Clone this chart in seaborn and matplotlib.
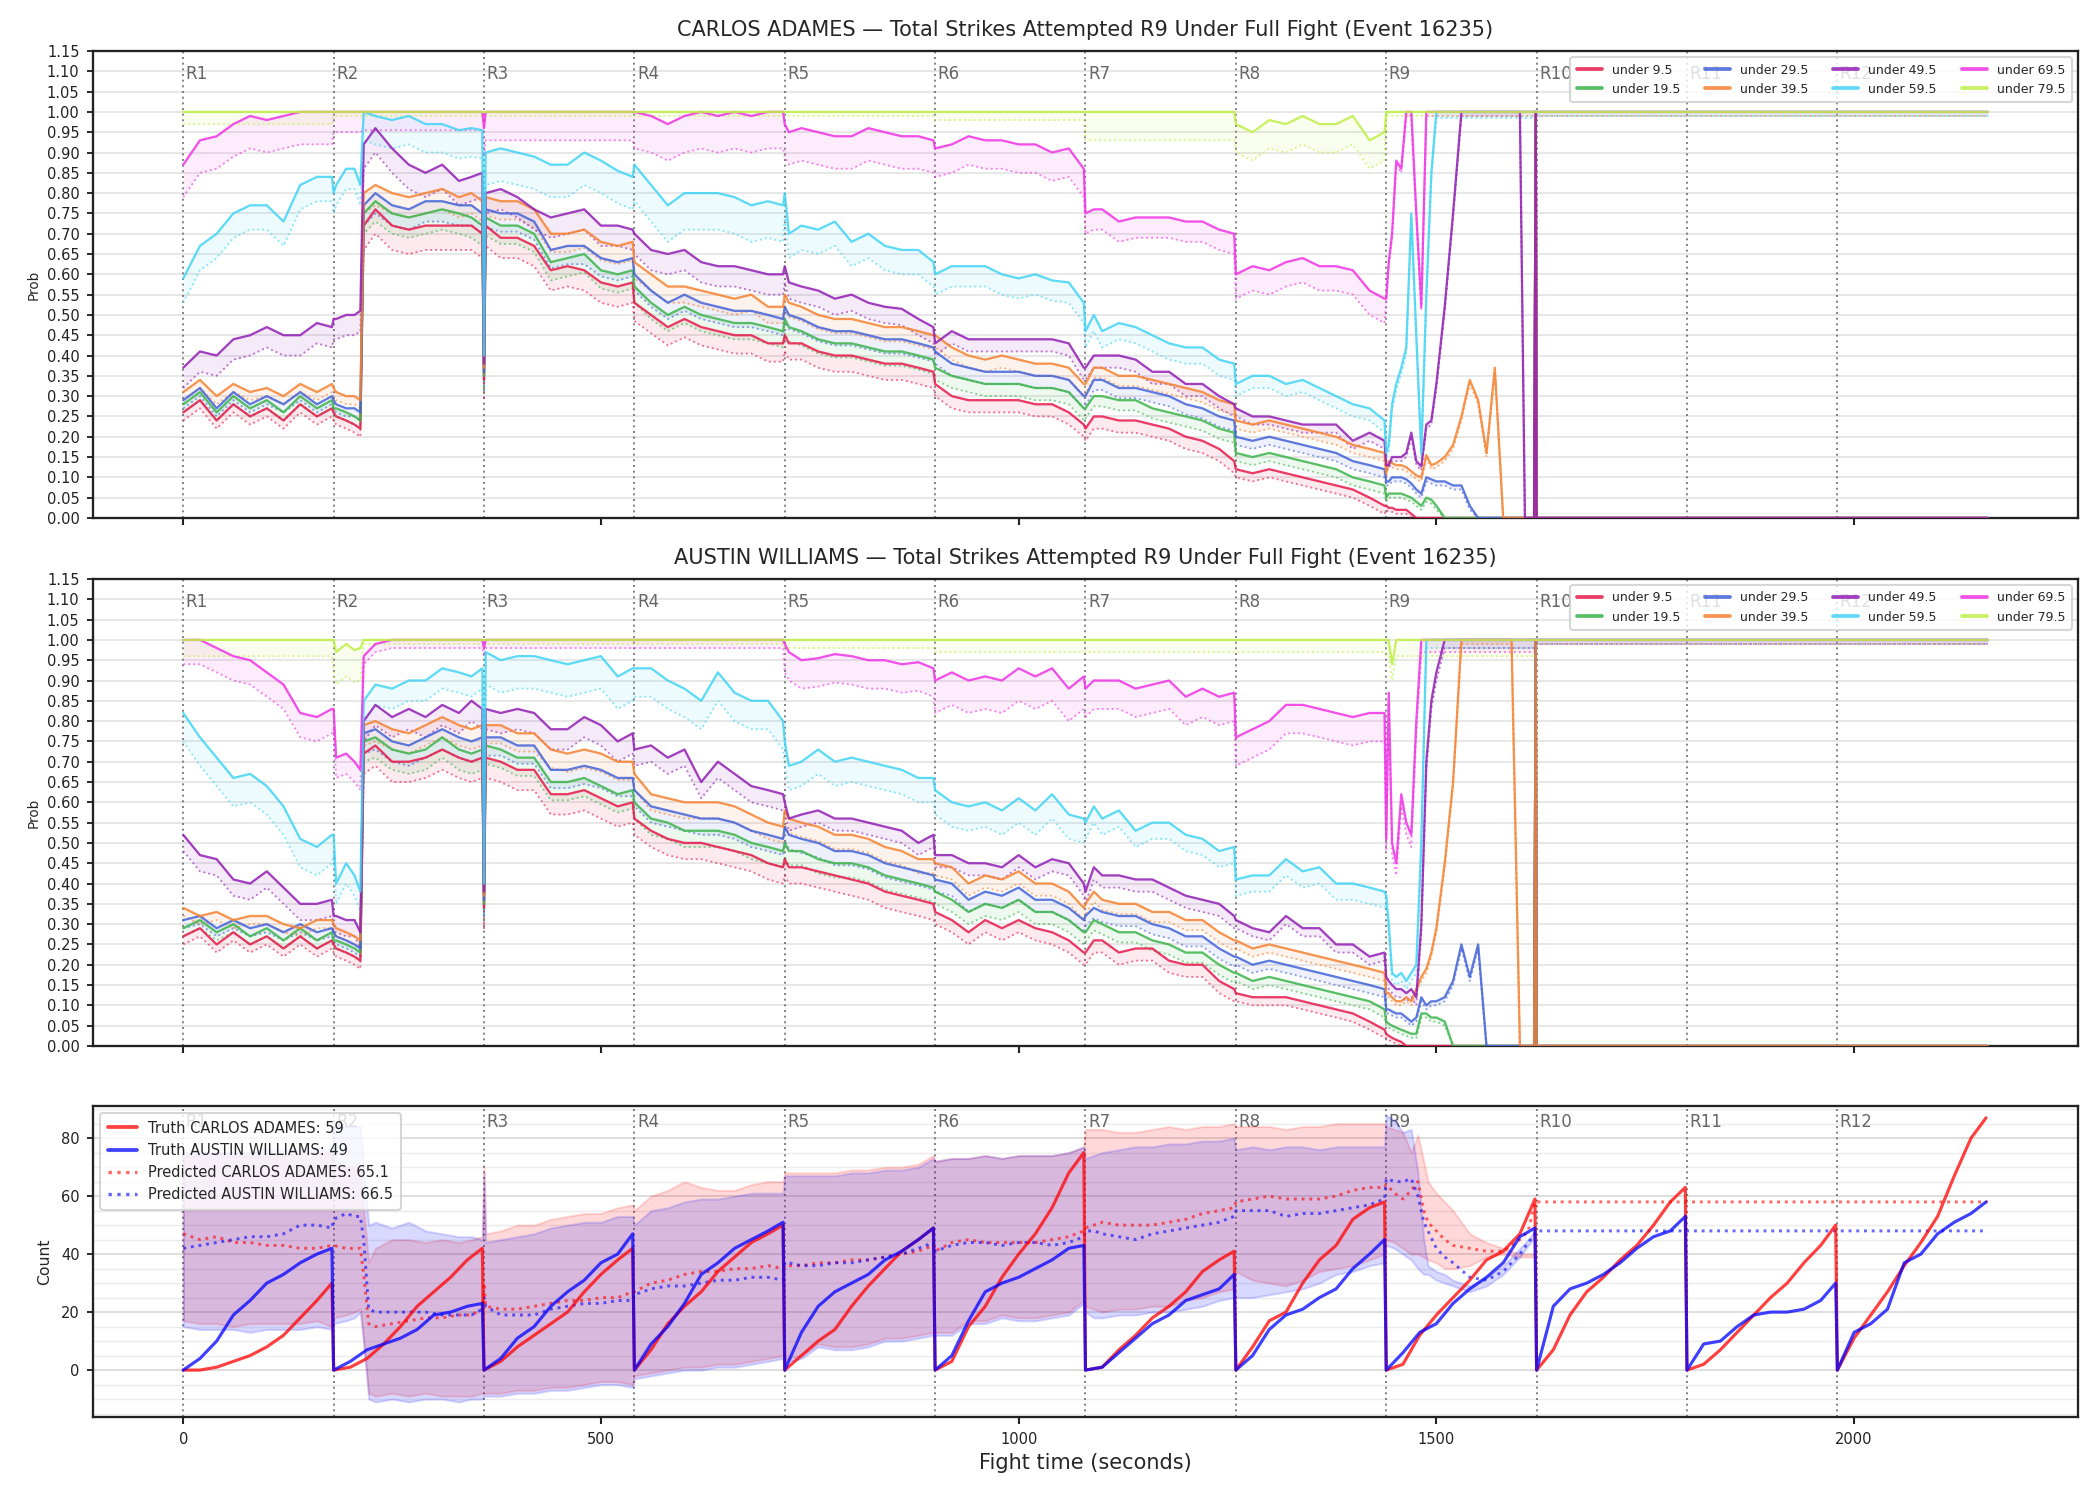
import numpy as np
import pandas as pd
import matplotlib
matplotlib.use("Agg")
import matplotlib.pyplot as plt
from matplotlib.lines import Line2D
from matplotlib.ticker import MultipleLocator
import seaborn as sns

# ---------------------------------------------------------------- data
ROUND_STARTS = [0, 180, 360, 540, 720, 900, 1080, 1260, 1440, 1620, 1800, 1980]
ROUND_NAMES = ["R1", "R2", "R3", "R4", "R5", "R6", "R7", "R8", "R9", "R10", "R11", "R12"]
THRESHOLDS = ["under 9.5", "under 19.5", "under 29.5", "under 39.5",
              "under 49.5", "under 59.5", "under 69.5", "under 79.5"]
LINE_COLORS = ["#e6194B", "#3cb44b", "#4363d8", "#f58231",
               "#911eb4", "#42d4f4", "#f032e6", "#bfef45"]

# sample times (s) of the probability curves
T_PROB = [
    0, 20, 40, 60, 80, 100, 120, 140, 160, 178,
    180, 183, 195, 205, 212, 216, 230, 250, 270, 290, 310, 330, 345, 358,
    360, 362, 380, 400, 420, 440, 460, 480, 500, 520, 538,
    540, 560, 580, 600, 620, 640, 660, 680, 700, 718,
    720, 725, 740, 760, 780, 800, 820, 840, 860, 880, 898,
    900, 920, 940, 960, 980, 1000, 1020, 1040, 1060, 1078,
    1080, 1090, 1100, 1120, 1140, 1160, 1180, 1200, 1220, 1240, 1258,
    1260, 1280, 1300, 1320, 1340, 1360, 1380, 1400, 1420, 1438,
    1440, 1443, 1447, 1452, 1458, 1464, 1470, 1476, 1482, 1488, 1494, 1500, 1510, 1520,
    1530, 1540, 1550, 1560, 1570, 1580, 1590, 1600, 1606, 1612, 1617, 1619, 1620, 2160,
]
# segments in which the lower (dotted) band gap is constant
GAP_SEGMENTS = [0, 180, 214, 360, 540, 720, 900, 1080, 1260, 1440, 1620]

# ---- CARLOS ADAMES (solid lines)
adames_u9 = [
    .26, .29, .24, .28, .25, .27, .24, .28, .25, .27,
    .26, .25, .24, .23, .22, .72, .76, .72, .71, .72, .72, .72, .72, .70,
    .34, .72, .69, .69, .67, .61, .62, .61, .58, .57, .58,
    .53, .50, .47, .49, .47, .46, .45, .45, .43, .43,
    .45, .43, .43, .41, .40, .40, .39, .38, .38, .37, .36,
    .33, .30, .29, .29, .29, .29, .28, .28, .26, .23,
    .22, .25, .25, .24, .24, .23, .22, .20, .19, .17, .14,
    .12, .11, .12, .11, .10, .09, .08, .07, .05, .03,
    .03, .025, .025, .02, .02, .02, .01, 0, 0, 0, 0, 0, 0, 0,
    0, 0, 0, 0, 0, 0, 0, 0, 0, 0, 0, 1, 0, 0,
]
adames_u19 = [
    .28, .31, .26, .30, .27, .29, .26, .30, .27, .29,
    .27, .27, .26, .25, .24, .75, .78, .75, .74, .75, .76, .75, .74, .72,
    .35, .74, .72, .72, .70, .63, .64, .65, .61, .60, .61,
    .57, .53, .50, .52, .50, .49, .48, .48, .47, .46,
    .49, .47, .46, .44, .43, .43, .42, .41, .41, .40, .39,
    .37, .35, .34, .33, .33, .33, .32, .32, .31, .27,
    .27, .30, .30, .29, .29, .27, .26, .25, .24, .22, .21,
    .16, .15, .16, .15, .14, .13, .12, .10, .09, .08,
    .05, .06, .06, .06, .06, .055, .05, .04, .03, .05, .045, .03, 0, 0,
    0, 0, 0, 0, 0, 0, 0, 0, 0, 0, 0, 1, 0, 0,
]
adames_u29 = [
    .29, .32, .27, .31, .28, .30, .28, .31, .28, .30,
    .29, .28, .27, .27, .26, .77, .80, .77, .76, .78, .78, .77, .77, .75,
    .36, .76, .75, .75, .73, .66, .67, .67, .64, .63, .64,
    .60, .56, .53, .55, .53, .52, .51, .51, .50, .49,
    .52, .50, .49, .47, .46, .46, .45, .44, .44, .43, .42,
    .41, .38, .37, .36, .36, .36, .35, .35, .34, .30,
    .30, .34, .34, .32, .32, .31, .30, .28, .27, .25, .24,
    .20, .19, .20, .19, .18, .17, .16, .14, .13, .12,
    .09, .09, .10, .10, .10, .095, .085, .07, .06, .10, .095, .09, .09, .08,
    .08, .03, 0, 0, 0, 0, 0, 0, 0, 0, 0, 1, 0, 0,
]
adames_u39 = [
    .31, .34, .30, .33, .31, .32, .30, .33, .31, .33,
    .32, .31, .30, .30, .29, .80, .82, .80, .79, .80, .81, .79, .80, .78,
    .37, .79, .78, .78, .76, .70, .70, .71, .68, .67, .68,
    .63, .60, .57, .57, .56, .55, .54, .55, .52, .52,
    .55, .53, .52, .50, .49, .49, .48, .47, .47, .46, .45,
    .45, .42, .40, .39, .40, .39, .38, .38, .37, .33,
    .33, .37, .37, .35, .35, .34, .33, .32, .31, .29, .28,
    .24, .23, .24, .23, .22, .21, .20, .18, .17, .16,
    .11, .14, .135, .13, .13, .125, .115, .105, .10, .155, .13, .135, .15, .18,
    .25, .34, .29, .16, .37, 0, 0, 0, 0, 0, 0, 1, 0, 0,
]
adames_u49 = [
    .37, .41, .40, .44, .45, .47, .45, .45, .48, .47,
    .49, .49, .50, .50, .51, .92, .96, .91, .87, .85, .87, .83, .84, .85,
    .38, .80, .81, .79, .76, .74, .75, .76, .72, .72, .71,
    .70, .66, .65, .66, .63, .62, .62, .61, .60, .60,
    .62, .58, .57, .56, .54, .55, .53, .52, .515, .49, .47,
    .43, .46, .44, .44, .44, .44, .44, .44, .43, .37,
    .37, .40, .40, .40, .39, .36, .36, .33, .33, .30, .28,
    .27, .25, .25, .24, .23, .23, .23, .19, .21, .19,
    .13, .13, .15, .15, .15, .16, .21, .14, .127, .23, .24, .33, .52, .75,
    1, 1, 1, 1, 1, 1, 1, 1, 0, 0, 0, 1, 0, 0,
]
adames_u59 = [
    .59, .67, .70, .75, .77, .77, .73, .82, .84, .84,
    .80, .82, .86, .86, .82, 1.0, .99, .98, .99, .97, .97, .955, .96, .955,
    .40, .90, .91, .90, .89, .87, .87, .90, .88, .855, .84,
    .87, .82, .77, .80, .80, .80, .79, .77, .78, .77,
    .80, .70, .72, .71, .73, .68, .70, .67, .66, .66, .63,
    .60, .62, .62, .62, .60, .59, .60, .585, .58, .53,
    .46, .50, .46, .48, .47, .45, .43, .42, .42, .39, .38,
    .33, .35, .35, .33, .34, .32, .30, .28, .27, .24,
    .16, .18, .28, .33, .37, .42, .75, .45, .16, .55, .85, 1, 1, 1,
    1, 1, 1, 1, 1, 1, 1, 1, 1, 1, 1, 1, 1, 1,
]
adames_u69 = [
    .87, .93, .94, .97, .99, .98, .99, 1, 1, 1,
    1, 1, 1, 1, 1, 1, 1, 1, 1, 1, 1, 1, 1, 1,
    .96, 1, 1, 1, 1, 1, 1, 1, 1, 1, 1,
    1, .99, .97, .99, 1, .99, 1, .99, 1, 1,
    .97, .95, .96, .95, .94, .94, .96, .95, .94, .94, .93,
    .91, .92, .94, .93, .93, .92, .92, .90, .91, .86,
    .75, .76, .76, .73, .74, .74, .74, .73, .73, .71, .70,
    .60, .62, .61, .63, .64, .62, .62, .61, .56, .54,
    .54, .63, .70, .88, .86, 1, 1, .75, .52, 1, 1, 1, 1, 1,
    1, 1, 1, 1, 1, 1, 1, 1, 1, 1, 1, 1, 1, 1,
]
adames_u79 = [
    1, 1, 1, 1, 1, 1, 1, 1, 1, 1,
    1, 1, 1, 1, 1, 1, 1, 1, 1, 1, 1, 1, 1, 1,
    1, 1, 1, 1, 1, 1, 1, 1, 1, 1, 1,
    1, 1, 1, 1, 1, 1, 1, 1, 1, 1,
    1, 1, 1, 1, 1, 1, 1, 1, 1, 1, 1,
    1, 1, 1, 1, 1, 1, 1, 1, 1, 1,
    1, 1, 1, 1, 1, 1, 1, 1, 1, 1, 1,
    .97, .95, .98, .97, .99, .97, .97, .99, .93, .95,
    1, 1, 1, 1, 1, 1, 1, 1, 1, 1, 1, 1, 1, 1,
    1, 1, 1, 1, 1, 1, 1, 1, 1, 1, 1, 1, 1, 1,
]
# gap between solid line and dotted lower line, per segment
adames_gap_u9 = [.02, .02, .06, .05, .045, .04, .03, .03, .02, .01, 0]
adames_gap_u19 = [.02, .02, .05, .045, .04, .035, .03, .025, .02, .01, 0]
adames_gap_u29 = [.02, .02, .05, .045, .04, .035, .03, .025, .02, .01, 0]
adames_gap_u39 = [.02, .02, .05, .045, .04, .035, .03, .025, .02, .01, 0]
adames_gap_u49 = [.05, .05, .06, .05, .05, .04, .03, .03, .02, .01, 0]
adames_gap_u59 = [.06, .05, .07, .08, .09, .06, .05, .04, .03, .015, .01]
adames_gap_u69 = [.08, .05, .045, .07, .09, .08, .07, .05, .06, .01, .01]
adames_gap_u79 = [.03, .01, .01, .01, .01, .01, .02, .07, .07, .01, .01]

# ---- AUSTIN WILLIAMS (solid lines)
williams_u9 = [
    .27, .29, .25, .28, .25, .27, .24, .27, .24, .26,
    .25, .24, .23, .22, .21, .72, .74, .70, .70, .71, .73, .71, .70, .71,
    .34, .71, .70, .68, .68, .62, .62, .63, .61, .59, .60,
    .56, .53, .51, .50, .50, .49, .48, .47, .45, .44,
    .46, .44, .44, .43, .42, .41, .40, .38, .37, .36, .35,
    .33, .31, .28, .31, .29, .31, .29, .28, .26, .23,
    .23, .26, .26, .23, .24, .24, .21, .20, .20, .16, .14,
    .13, .12, .12, .12, .11, .10, .09, .08, .06, .04,
    .03, .025, .02, .015, .01, 0, 0, 0, 0, 0, 0, 0, 0, 0,
    0, 0, 0, 0, 0, 0, 0, 0, 0, 0, 0, 1, 0, 0,
]
williams_u19 = [
    .29, .31, .28, .30, .27, .29, .26, .29, .26, .28,
    .26, .26, .25, .24, .23, .75, .76, .73, .72, .73, .76, .73, .72, .73,
    .35, .74, .73, .71, .71, .65, .65, .66, .64, .62, .63,
    .60, .56, .55, .53, .53, .53, .52, .50, .49, .48,
    .50, .48, .48, .46, .45, .45, .44, .42, .41, .40, .39,
    .38, .36, .33, .35, .34, .36, .33, .33, .31, .28,
    .28, .31, .30, .28, .28, .26, .25, .23, .23, .20, .18,
    .18, .16, .17, .16, .15, .14, .13, .12, .11, .09,
    .06, .055, .05, .045, .04, .035, .03, .03, .08, .08, .07, .07, .06, 0,
    0, 0, 0, 0, 0, 0, 0, 0, 0, 0, 0, 1, 0, 0,
]
williams_u29 = [
    .31, .32, .29, .31, .29, .30, .28, .30, .28, .29,
    .28, .27, .26, .25, .24, .77, .78, .75, .74, .76, .78, .76, .75, .76,
    .36, .76, .76, .74, .74, .68, .68, .69, .68, .66, .66,
    .63, .59, .58, .57, .56, .56, .55, .53, .52, .51,
    .54, .52, .51, .50, .48, .48, .47, .45, .44, .43, .42,
    .41, .40, .36, .38, .37, .39, .36, .36, .34, .31,
    .32, .34, .33, .32, .32, .30, .29, .27, .27, .24, .22,
    .22, .20, .21, .20, .19, .18, .17, .16, .15, .14,
    .09, .09, .085, .08, .08, .07, .06, .07, .12, .10, .11, .11, .12, .16,
    .25, .17, .25, 0, 0, 0, 0, 0, 0, 0, 0, 1, 0, 0,
]
williams_u39 = [
    .34, .32, .33, .31, .32, .32, .30, .29, .31, .31,
    .30, .29, .28, .27, .26, .79, .80, .78, .77, .79, .81, .79, .78, .79,
    .37, .79, .79, .77, .77, .73, .72, .73, .72, .70, .70,
    .67, .62, .61, .60, .60, .60, .59, .57, .55, .54,
    .58, .56, .55, .54, .52, .52, .51, .49, .48, .46, .46,
    .45, .44, .40, .42, .41, .43, .40, .40, .38, .34,
    .35, .38, .36, .35, .35, .33, .33, .31, .31, .28, .26,
    .26, .24, .25, .24, .23, .22, .21, .20, .19, .18,
    .13, .13, .12, .11, .11, .12, .11, .14, .17, .19, .23, .29, .45, .65,
    1, 1, 1, 1, 1, 1, 1, 0, 0, 0, 0, 1, 0, 0,
]
williams_u49 = [
    .52, .47, .46, .41, .40, .43, .39, .35, .35, .36,
    .32, .32, .31, .31, .28, .80, .84, .81, .83, .81, .84, .82, .85, .83,
    .38, .83, .82, .83, .82, .78, .78, .81, .79, .75, .77,
    .73, .74, .71, .73, .65, .70, .67, .64, .63, .62,
    .60, .56, .57, .58, .56, .56, .55, .54, .53, .50, .52,
    .47, .47, .45, .45, .44, .47, .44, .46, .45, .40,
    .38, .44, .42, .42, .41, .41, .39, .37, .36, .35, .32,
    .31, .29, .28, .32, .29, .29, .25, .25, .22, .23,
    .17, .16, .15, .14, .14, .13, .14, .12, .30, .70, .85, .92, 1, 1,
    1, 1, 1, 1, 1, 1, 1, 1, 1, 1, 1, 1, 1, 1,
]
williams_u59 = [
    .82, .76, .71, .66, .67, .64, .59, .51, .49, .52,
    .52, .40, .45, .42, .38, .85, .89, .88, .90, .90, .93, .92, .91, .93,
    .40, .97, .95, .96, .96, .95, .94, .95, .96, .91, .93,
    .93, .93, .90, .88, .85, .92, .87, .85, .85, .80,
    .75, .69, .70, .73, .70, .71, .70, .69, .68, .66, .66,
    .63, .60, .59, .60, .58, .61, .58, .62, .57, .56,
    .55, .59, .56, .58, .53, .55, .55, .52, .51, .48, .49,
    .41, .42, .42, .46, .43, .44, .40, .40, .39, .38,
    .37, .30, .18, .17, .18, .16, .18, .20, .50, 1, 1, 1, 1, 1,
    1, 1, 1, 1, 1, 1, 1, 1, 1, 1, 1, 1, 1, 1,
]
williams_u69 = [
    1, 1, .98, .96, .95, .92, .89, .82, .81, .83,
    .83, .71, .72, .70, .68, .96, .99, 1, 1, 1, 1, 1, 1, 1,
    .98, 1, 1, 1, 1, 1, 1, 1, 1, 1, 1,
    1, 1, 1, 1, 1, 1, 1, 1, 1, 1,
    .99, .97, .95, .955, .965, .96, .95, .95, .94, .945, .93,
    .90, .92, .90, .91, .90, .93, .91, .93, .88, .91,
    .88, .90, .90, .90, .88, .89, .90, .86, .88, .86, .87,
    .76, .78, .80, .84, .84, .83, .82, .81, .82, .82,
    .51, .87, .50, .45, .62, .55, .52, .80, 1, 1, 1, 1, 1, 1,
    1, 1, 1, 1, 1, 1, 1, 1, 1, 1, 1, 1, 1, 1,
]
williams_u79 = [
    1, 1, 1, 1, 1, 1, 1, 1, 1, 1,
    1, .97, .99, .975, .98, 1, 1, 1, 1, 1, 1, 1, 1, 1,
    1, 1, 1, 1, 1, 1, 1, 1, 1, 1, 1,
    1, 1, 1, 1, 1, 1, 1, 1, 1, 1,
    1, 1, 1, 1, 1, 1, 1, 1, 1, 1, 1,
    1, 1, 1, 1, 1, 1, 1, 1, 1, 1,
    1, 1, 1, 1, 1, 1, 1, 1, 1, 1, 1,
    1, 1, 1, 1, 1, 1, 1, 1, 1, 1,
    1, 1, .94, 1, 1, 1, 1, 1, 1, 1, 1, 1, 1, 1,
    1, 1, 1, 1, 1, 1, 1, 1, 1, 1, 1, 1, 1, 1,
]
williams_gap_u9 = [.02, .02, .05, .05, .04, .04, .03, .03, .02, .01, 0]
williams_gap_u19 = [.02, .02, .05, .045, .04, .035, .03, .025, .02, .01, 0]
williams_gap_u29 = [.02, .02, .05, .045, .04, .035, .03, .025, .02, .01, 0]
williams_gap_u39 = [.02, .02, .05, .045, .04, .035, .03, .025, .02, .01, 0]
williams_gap_u49 = [.04, .04, .05, .05, .04, .03, .03, .03, .02, .02, .01]
williams_gap_u59 = [.07, .05, .05, .08, .07, .06, .06, .04, .04, .02, .01]
williams_gap_u69 = [.06, .05, .02, .02, .02, .07, .08, .07, .07, .03, .01]
williams_gap_u79 = [.04, .08, .01, .01, .01, .02, .03, .03, .03, .04, .01]

# ---- bottom panel: cumulative counts
TRUTH_OFFSETS = [0, 20, 40, 60, 80, 100, 120, 140, 160, 178]
truth_adames = [
    0, 0, 1, 3, 5, 8, 12, 18, 24, 30,
    0, 1, 4, 9, 15, 22, 27, 32, 38, 42,
    0, 3, 8, 12, 16, 20, 27, 33, 38, 42,
    0, 7, 16, 22, 27, 34, 39, 44, 47, 50,
    0, 5, 10, 14, 22, 29, 35, 41, 45, 49,
    0, 3, 15, 22, 32, 40, 47, 56, 68, 75,
    0, 1, 7, 12, 18, 22, 27, 34, 38, 41,
    0, 8, 17, 20, 30, 38, 43, 52, 56, 58,
    0, 2, 12, 19, 25, 31, 38, 41, 47, 59,
    0, 7, 19, 27, 32, 38, 43, 50, 58, 63,
    0, 2, 7, 13, 19, 25, 30, 37, 43, 50,
    0, 11, 19, 27, 36, 44, 53, 67, 80, 87,
]
truth_williams = [
    0, 4, 10, 19, 24, 30, 33, 37, 40, 42,
    0, 3, 7, 9, 11, 14, 19, 20, 22, 23,
    0, 4, 11, 15, 22, 27, 31, 37, 40, 47,
    0, 9, 15, 23, 33, 37, 42, 45, 48, 51,
    0, 13, 22, 27, 30, 33, 38, 41, 45, 49,
    0, 5, 17, 27, 30, 32, 35, 38, 42, 43,
    0, 1, 6, 11, 16, 19, 24, 26, 28, 33,
    0, 5, 14, 19, 21, 25, 28, 35, 40, 45,
    0, 6, 13, 16, 23, 28, 32, 37, 46, 49,
    0, 22, 28, 30, 33, 37, 42, 46, 48, 53,
    0, 9, 10, 15, 19, 20, 20, 21, 24, 30,
    0, 13, 16, 21, 37, 40, 47, 51, 54, 58,
]

T_BAND = [
    0, 20, 40, 60, 80, 100, 120, 140, 160, 178,
    180, 195, 205, 212, 216, 222, 230, 250, 270, 290, 310, 330, 345, 358,
    360, 362, 380, 400, 420, 440, 460, 480, 500, 520, 538,
    540, 560, 580, 600, 620, 640, 660, 680, 700, 718,
    720, 725, 740, 760, 780, 800, 820, 840, 860, 880, 898,
    900, 920, 940, 960, 980, 1000, 1020, 1040, 1060, 1078,
    1080, 1090, 1100, 1120, 1140, 1160, 1180, 1200, 1220, 1240, 1258,
    1260, 1280, 1300, 1320, 1340, 1360, 1380, 1400, 1420, 1438,
    1440, 1450, 1460, 1470, 1478, 1485, 1490, 1500, 1510, 1520, 1540, 1560, 1580, 1600, 1610, 1618,
]
T_PRED_TAIL = [1620, 2160]

pred_adames = [
    47, 45, 46, 44, 44, 43, 43, 42, 42, 43,
    43, 42, 42, 42, 33, 16, 15, 16, 17, 18, 18, 19, 19, 21,
    30, 22, 21, 21, 22, 23, 24, 24, 25, 25, 27,
    27, 30, 31, 33, 34, 34, 35, 35, 36, 35,
    36, 36, 36, 37, 37, 38, 38, 39, 40, 41, 43,
    41, 44, 45, 44, 44, 44, 44, 45, 46, 48,
    49, 50, 51, 50, 50, 50, 51, 52, 54, 55, 56,
    58, 59, 60, 59, 59, 59, 60, 62, 63, 63,
    64, 61, 59, 62, 65, 55, 51, 48, 45, 43, 42, 41, 41, 45, 48, 58,
    58, 58,
]
pred_williams = [
    42, 43, 44, 45, 46, 46, 47, 50, 50, 49,
    52, 54, 53, 53, 45, 21, 20, 20, 20, 20, 19, 19, 19, 21,
    25, 22, 19, 19, 19, 21, 22, 23, 23, 24, 24,
    26, 28, 29, 29, 30, 31, 31, 32, 32, 31,
    37, 37, 36, 36, 37, 37, 38, 39, 40, 42, 44,
    41, 43, 44, 44, 43, 44, 44, 43, 44, 46,
    48, 48, 47, 46, 45, 47, 48, 49, 50, 51, 53,
    55, 55, 55, 53, 54, 54, 55, 56, 57, 59,
    66, 65, 65, 66, 60, 51, 48, 42, 39, 37, 32, 31, 34, 40, 44, 47,
    48, 48,
]
band_adames_hi = [
    74, 74, 75, 74, 74, 74, 74, 75, 75, 75,
    70, 70, 70, 70, 55, 37, 42, 45, 45, 44, 45, 44, 45, 46,
    70, 47, 48, 50, 50, 52, 53, 54, 54, 56, 57,
    55, 60, 62, 65, 63, 62, 62, 64, 65, 65,
    68, 68, 68, 68, 68, 69, 69, 70, 70, 71, 74,
    72, 73, 73, 74, 73, 74, 74, 74, 75, 77,
    83, 83, 83, 82, 82, 83, 84, 83, 84, 84, 85,
    84, 84, 84, 83, 84, 84, 85, 85, 85, 85,
    84, 83, 82, 75, 81, 72, 65, 61, 58, 55, 47, 44, 42, 40, 40, 40,
]
band_adames_lo = [
    17, 16, 16, 15, 16, 16, 16, 16, 17, 15,
    18, 19, 20, 21, 10, -8, -9, -8, -9, -8, -9, -9, -9, -8,
    -8, -8, -8, -7, -7, -6, -6, -5, -4, -4, -5,
    -2, -1, 0, 1, 1, 2, 2, 3, 4, 5,
    3, 4, 5, 9, 8, 8, 9, 11, 11, 12, 13,
    13, 13, 17, 17, 19, 18, 18, 19, 20, 24,
    22, 21, 20, 21, 21, 22, 22, 24, 25, 27, 28,
    34, 31, 30, 29, 31, 34, 35, 36, 38, 40,
    45, 44, 42, 40, 40, 39, 38, 37, 35, 35, 36, 39, 40, 39, 39, 39,
]
band_williams_hi = [
    75, 75, 75, 75, 75, 76, 76, 76, 76, 76,
    84, 84, 84, 84, 70, 50, 51, 49, 51, 48, 47, 46, 46, 45,
    68, 44, 45, 46, 47, 49, 50, 51, 51, 53, 53,
    50, 55, 56, 58, 59, 59, 60, 61, 61, 61,
    67, 67, 67, 67, 67, 68, 68, 69, 69, 70, 73,
    72, 73, 73, 74, 73, 74, 74, 74, 75, 77,
    73, 74, 75, 76, 77, 77, 78, 78, 79, 79, 80,
    76, 77, 76, 77, 77, 76, 77, 77, 77, 77,
    88, 86, 82, 83, 68, 45, 36, 34, 33, 31, 29, 32, 36, 42, 45, 48,
]
band_williams_lo = [
    15, 14, 14, 14, 13, 14, 14, 14, 15, 14,
    16, 17, 18, 20, 9, -10, -11, -10, -11, -10, -10, -11, -10, -10,
    -9, -9, -9, -8, -8, -7, -7, -6, -5, -5, -6,
    -3, -2, -1, 0, 0, 1, 1, 2, 3, 4,
    2, 3, 4, 8, 7, 7, 8, 10, 10, 11, 12,
    12, 12, 16, 16, 18, 17, 17, 18, 19, 23,
    20, 18, 18, 19, 19, 20, 20, 21, 22, 24, 25,
    25, 25, 26, 27, 28, 30, 33, 34, 36, 37,
    43, 42, 40, 38, 35, 33, 33, 31, 30, 29, 27, 29, 33, 39, 43, 46,
]

FIGHTER_A = "CARLOS ADAMES"
FIGHTER_B = "AUSTIN WILLIAMS"
TRUTH_TOTALS = [59, 49]
PRED_TOTALS = [65.1, 66.5]
TITLE_TAIL = "Total Strikes Attempted R9 Under Full Fight (Event 16235)"

# ---------------------------------------------------------------- checks
adames_series = [adames_u9, adames_u19, adames_u29, adames_u39,
                 adames_u49, adames_u59, adames_u69, adames_u79]
adames_gaps = [adames_gap_u9, adames_gap_u19, adames_gap_u29, adames_gap_u39,
               adames_gap_u49, adames_gap_u59, adames_gap_u69, adames_gap_u79]
williams_series = [williams_u9, williams_u19, williams_u29, williams_u39,
                   williams_u49, williams_u59, williams_u69, williams_u79]
williams_gaps = [williams_gap_u9, williams_gap_u19, williams_gap_u29, williams_gap_u39,
                 williams_gap_u49, williams_gap_u59, williams_gap_u69, williams_gap_u79]
for s in adames_series + williams_series:
    assert len(s) == len(T_PROB), len(s)
for s in [band_adames_hi, band_adames_lo, band_williams_hi, band_williams_lo]:
    assert len(s) == len(T_BAND), len(s)
for s in [pred_adames, pred_williams]:
    assert len(s) == len(T_BAND) + len(T_PRED_TAIL), len(s)
for s in [truth_adames, truth_williams]:
    assert len(s) == len(ROUND_STARTS) * len(TRUTH_OFFSETS)

# ---------------------------------------------------------------- style
sns.set_theme(style="ticks")
plt.rcParams.update({
    "font.family": ["DejaVu Sans"],
    "axes.edgecolor": "#222222",
    "axes.linewidth": 1.1,
    "xtick.major.size": 3.5,
    "ytick.major.size": 3.0,
    "xtick.major.width": 1.0,
    "ytick.major.width": 0.9,
    "xtick.labelsize": 7,
    "ytick.labelsize": 7,
    "xtick.color": "#222222",
    "ytick.color": "#222222",
})

fig = plt.figure(figsize=(14, 10), dpi=150)
L, W = 0.0443, 0.9452
ax1 = fig.add_axes([L, 0.6547, W, 0.3113])
ax2 = fig.add_axes([L, 0.3027, W, 0.3113], sharex=ax1)
ax3 = fig.add_axes([L, 0.0553, W, 0.2074], sharex=ax1)

XLIM = (-108, 2268)


def round_marks(ax):
    for rs, rn in zip(ROUND_STARTS, ROUND_NAMES):
        ax.axvline(rs, color="#555555", ls=(0, (1.2, 2.2)), lw=0.8, alpha=0.85, zorder=1.5)
        ax.text(rs + 3, 0.95, rn, transform=ax.get_xaxis_transform(), fontsize=8,
                color="#666666", ha="left", va="center", zorder=1.6)


def prob_panel(ax, series, gaps, fighter):
    t = np.array(T_PROB, dtype=float)
    seg = np.searchsorted(GAP_SEGMENTS, t, side="right") - 1
    ax.set_yticks([round(0.05 * i, 2) for i in range(24)])
    ax.yaxis.set_major_formatter(matplotlib.ticker.FormatStrFormatter("%.2f"))
    ax.grid(axis="y", color="#e3e3e3", lw=0.8, zorder=0)
    ax.set_axisbelow(True)
    round_marks(ax)
    for lab, col, vals, gap in zip(THRESHOLDS, LINE_COLORS, series, gaps):
        v = np.array(vals, dtype=float)
        lo = np.clip(v - np.array(gap, dtype=float)[seg], 0, None)
        df = pd.DataFrame({"t": t, "v": v, "lo": lo})
        ax.fill_between(t, lo, v, color=col, alpha=0.09, lw=0, zorder=2)
        sns.lineplot(data=df, x="t", y="lo", ax=ax, color=col, lw=0.9, alpha=0.6,
                     linestyle=":", legend=False, estimator=None, sort=False, zorder=3)
        sns.lineplot(data=df, x="t", y="v", ax=ax, color=col, lw=1.1, alpha=0.85,
                     legend=False, estimator=None, sort=False, zorder=4)
    ax.set_ylim(0, 1.15)
    ax.set_xlim(*XLIM)
    ax.set_ylabel("Prob", fontsize=6.5, labelpad=3)
    ax.set_xlabel("")
    ax.set_title(f"{fighter} \u2014 {TITLE_TAIL}", fontsize=10, pad=7)
    ax.tick_params(labelbottom=False)
    handles = [Line2D([], [], color=c, lw=1.8, alpha=0.85, label=l)
               for l, c in zip(THRESHOLDS, LINE_COLORS)]
    leg = ax.legend(handles=handles, loc="upper right", ncol=4, fontsize=6,
                    frameon=True, framealpha=0.8, borderpad=0.5, columnspacing=2.0,
                    handlelength=2.0, labelspacing=0.5)
    leg.set_zorder(10)


prob_panel(ax1, adames_series, adames_gaps, FIGHTER_A)
prob_panel(ax2, williams_series, williams_gaps, FIGHTER_B)

# ---- bottom panel
tb = np.array(T_BAND, dtype=float)
tp = np.array(T_BAND + T_PRED_TAIL, dtype=float)
tt = np.array([rs + o for rs in ROUND_STARTS for o in TRUTH_OFFSETS], dtype=float)

ax3.set_yticks([0, 20, 40, 60, 80])
ax3.yaxis.set_minor_locator(MultipleLocator(5))
ax3.tick_params(axis="y", which="minor", length=0)
ax3.grid(axis="y", which="major", color="#dcdcdc", lw=0.9, zorder=0)
ax3.grid(axis="y", which="minor", color="#ececec", lw=0.7, zorder=0)
ax3.set_axisbelow(True)
round_marks(ax3)

ax3.fill_between(tb, band_adames_lo, band_adames_hi, color="red", alpha=0.15, lw=1.0, zorder=2)
ax3.fill_between(tb, band_williams_lo, band_williams_hi, color="blue", alpha=0.15, lw=1.0, zorder=2)

df_pred = pd.DataFrame({"t": tp, "a": pred_adames, "b": pred_williams})
df_truth = pd.DataFrame({"t": tt, "a": truth_adames, "b": truth_williams})
sns.lineplot(data=df_pred, x="t", y="a", ax=ax3, color="red", lw=1.4, alpha=0.6,
             linestyle=":", legend=False, estimator=None, sort=False, zorder=3)
sns.lineplot(data=df_pred, x="t", y="b", ax=ax3, color="blue", lw=1.4, alpha=0.6,
             linestyle=":", legend=False, estimator=None, sort=False, zorder=3)
sns.lineplot(data=df_truth, x="t", y="a", ax=ax3, color="red", lw=1.5, alpha=0.75,
             legend=False, estimator=None, sort=False, zorder=4)
sns.lineplot(data=df_truth, x="t", y="b", ax=ax3, color="blue", lw=1.5, alpha=0.75,
             legend=False, estimator=None, sort=False, zorder=4)

ax3.set_ylim(-16.2, 91.1)
ax3.set_xlim(*XLIM)
ax3.set_xticks([0, 500, 1000, 1500, 2000])
ax3.set_ylabel("Count", fontsize=7.5, labelpad=4)
ax3.set_xlabel("Fight time (seconds)", fontsize=10, labelpad=3)

leg_handles = [
    Line2D([], [], color="red", lw=1.8, alpha=0.75, label=f"Truth {FIGHTER_A}: {TRUTH_TOTALS[0]}"),
    Line2D([], [], color="blue", lw=1.8, alpha=0.75, label=f"Truth {FIGHTER_B}: {TRUTH_TOTALS[1]}"),
    Line2D([], [], color="red", lw=1.6, alpha=0.6, ls=":", label=f"Predicted {FIGHTER_A}: {PRED_TOTALS[0]}"),
    Line2D([], [], color="blue", lw=1.6, alpha=0.6, ls=":", label=f"Predicted {FIGHTER_B}: {PRED_TOTALS[1]}"),
]
leg3 = ax3.legend(handles=leg_handles, loc="upper left", fontsize=7, frameon=True,
                  framealpha=0.8, borderpad=0.5, labelspacing=0.5)
leg3.set_zorder(10)

fig.savefig("out.png", dpi=150)
